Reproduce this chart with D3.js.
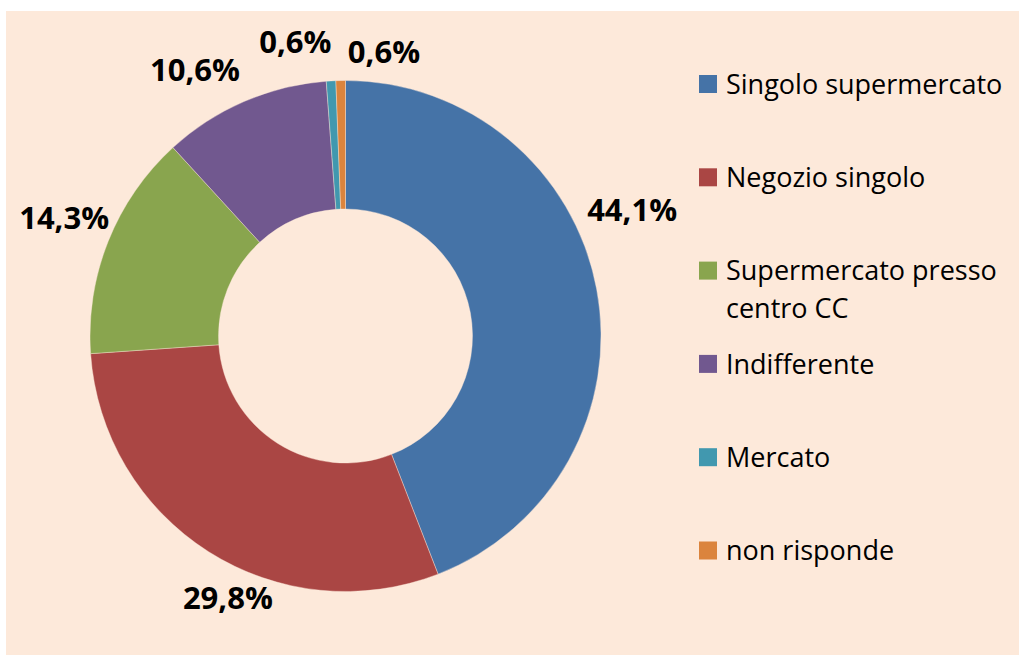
<!DOCTYPE html>
<html>
<head>
<meta charset="utf-8">
<script src="https://cdn.jsdelivr.net/npm/d3@7"></script>
<style>
  body { margin: 0; background: #fff; }
  text { font-family: "Open Sans", Lato, sans-serif; }
</style>
</head>
<body>
<div id="vis"></div>
<script>
// data
var categories = ["Singolo supermercato", "Negozio singolo", "Supermercato presso centro CC",
                  "Indifferente", "Mercato", "non risponde"];
var values = [44.1, 29.8, 14.3, 10.6, 0.6, 0.6];
var labels = ["44,1%", "29,8%", "14,3%", "10,6%", "0,6%", "0,6%"];
var legendLines = [["Singolo supermercato"], ["Negozio singolo"], ["Supermercato presso", "centro CC"],
                   ["Indifferente"], ["Mercato"], ["non risponde"]];
var colors = ["#4573a7", "#aa4644", "#89a54e", "#71588f", "#4198af", "#db843d"];

var width = 1019, height = 655;
var cx = 345.5, cy = 336, outerR = 255.5, innerR = 127;

// manual label placement (angle in degrees from 12 o'clock, distance from centre)
var labelPlace = [[66.3, 313], [204.2, 287], [292.7, 305], [330.5, 305.6], [350.3, 298], [7.7, 287]];

var svg = d3.select("#vis")
    .append("svg")
    .attr("width", width)
    .attr("height", height);

svg.append("rect")
    .attr("x", 6).attr("y", 11)
    .attr("width", width - 6).attr("height", height - 11)
    .attr("fill", "#fde9da");

var pie = d3.pie().sort(null).value(function(d) { return d; });
var arc = d3.arc().innerRadius(innerR).outerRadius(outerR);

var g = svg.append("g")
    .attr("transform", "translate(" + cx + "," + cy + ")");

g.selectAll("path")
    .data(pie(values))
    .enter()
    .append("path")
    .attr("d", arc)
    .attr("fill", function(d, i) { return colors[i]; })
    .attr("stroke", "#fde9da")
    .attr("stroke-width", 0.4);

g.selectAll(".label")
    .data(labels)
    .enter()
    .append("text")
    .attr("class", "label")
    .attr("x", function(d, i) { return labelPlace[i][1] * Math.sin(labelPlace[i][0] * Math.PI / 180); })
    .attr("y", function(d, i) { return -labelPlace[i][1] * Math.cos(labelPlace[i][0] * Math.PI / 180); })
    .attr("dy", "0.36em")
    .attr("text-anchor", "middle")
    .attr("font-size", "31px")
    .attr("font-weight", "bold")
    .attr("fill", "#000")
    .text(function(d) { return d; });

////////// legend //////////
var legend = svg.append("g")
    .attr("transform", "translate(699,84)");

var item = legend.selectAll(".item")
    .data(categories)
    .enter()
    .append("g")
    .attr("class", "item")
    .attr("transform", function(d, i) { return "translate(0," + (i * 93.3) + ")"; });

item.append("rect")
    .attr("x", 0).attr("y", -9)
    .attr("width", 18).attr("height", 18)
    .attr("fill", function(d, i) { return colors[i]; });

item.append("text")
    .attr("x", 27)
    .attr("font-size", "27px")
    .attr("fill", "#000")
    .selectAll("tspan")
    .data(function(d, i) { return legendLines[i]; })
    .enter()
    .append("tspan")
    .attr("x", 27)
    .attr("y", function(d, j) { return j * 38; })
    .attr("dy", "0.36em")
    .text(function(d) { return d; });
</script>
</body>
</html>
